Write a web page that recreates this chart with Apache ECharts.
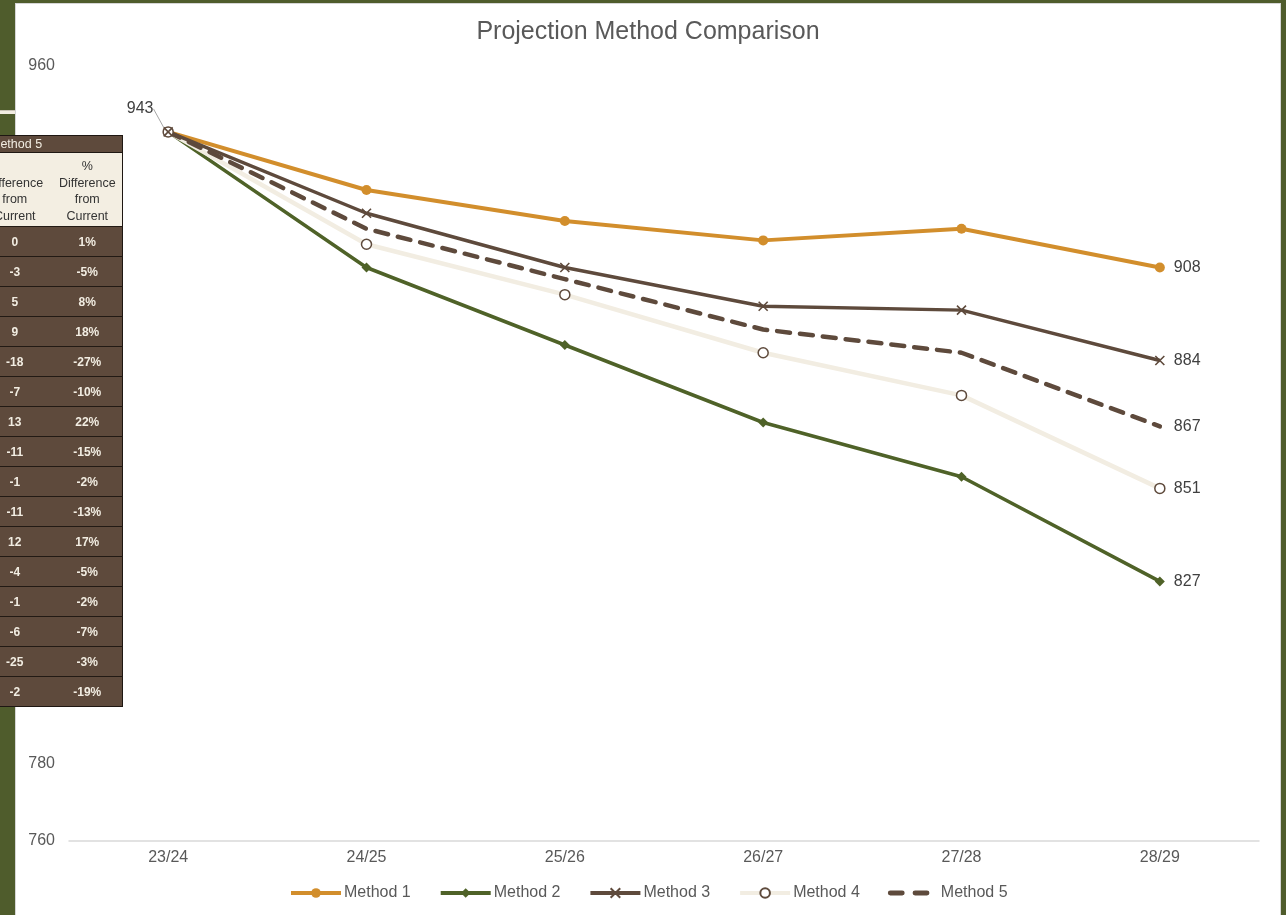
<!DOCTYPE html>
<html>
<head>
<meta charset="utf-8">
<script src="https://cdn.jsdelivr.net/npm/echarts@6/dist/echarts.min.js"></script>
<style>
  html, body { margin: 0; padding: 0; }
  body { width: 1286px; height: 915px; background: #4f5c2c; position: relative; overflow: hidden;
         font-family: 'Liberation Sans', Helvetica, Arial, sans-serif; }
  #chart { position: absolute; left: 16px; top: 4px; width: 1264px; height: 911px; background: #ffffff;
           box-shadow: 0 0 0 1px #d6d6d6; }
  #rule { position: absolute; left: 0; top: 110px; width: 16px; height: 3px; background: #f2ede2;
          border-top: 1px solid #c9c3b6; }
  #sheet { position: absolute; left: -24px; top: 135px; border-collapse: collapse; table-layout: fixed;
           width: 146px; border: 1px solid #1e1712; z-index: 5; }
  #sheet td { padding: 0; text-align: center; font-size: 12px; line-height: 16px; overflow: hidden; white-space: nowrap; }
  #sheet tr.title td { background: #5e4a3c; color: #f2ede2; text-align: left; padding-left: 13px; height: 16px;
                       border-bottom: 1px solid #1e1712; font-size: 12.5px; }
  #sheet tr.head td { background: #f3eee2; color: #333333; height: 71px; vertical-align: bottom; padding-bottom: 2px;
                      white-space: normal; line-height: 16.5px; font-size: 12.5px; }
  #sheet tr.row td { background: #5e4a3c; color: #f2ede2; font-weight: bold; height: 29px; border-top: 1px solid #221a14; }
</style>
</head>
<body>
<div id="rule"></div>
<div id="chart"></div>
<table id="sheet"><colgroup><col style="width:76px"><col style="width:70px"></colgroup><tbody id="sheetBody"></tbody></table>
<script>
// Projection years along the x axis
const categories = ['23/24', '24/25', '25/26', '26/27', '27/28', '28/29'];

// Projected totals for each method
const method1 = [943, 928, 920, 915, 918, 908];
const method2 = [943, 908, 888, 868, 854, 827];
const method3 = [943, 922, 908, 898, 897, 884];
const method4 = [943, 914, 901, 886, 875, 851];
const method5 = [943, 918, 905, 892, 886, 867];

// Value axis range
const yMin = 760;
const yMax = 960;
const yStep = 20;

// Side table: Method 5 difference columns
const tableTitle = 'Method 5';
const diffHeader = 'Difference from Current';
const pctHeader = '% Difference from Current';
const diffValues = [0, -3, 5, 9, -18, -7, 13, -11, -1, -11, 12, -4, -1, -6, -25, -2];
const pctValues = ['1%', '-5%', '8%', '18%', '-27%', '-10%', '22%', '-15%', '-2%', '-13%', '17%', '-5%', '-2%', '-7%', '-3%', '-19%'];

// Build the side table
(function buildTable() {
  const body = document.getElementById('sheetBody');
  let html = '<tr class="title"><td colspan="2">' + tableTitle + '</td></tr>';
  html += '<tr class="head"><td>' + diffHeader.replace(/ /g, '<br>') + '</td><td>' + pctHeader.replace(/ /g, '<br>') + '</td></tr>';
  for (let i = 0; i < diffValues.length; i++) {
    html += '<tr class="row"><td>' + diffValues[i] + '</td><td>' + pctValues[i] + '</td></tr>';
  }
  body.innerHTML = html;
})();

const FONT = "'Liberation Sans', Helvetica, Arial, sans-serif";
const BROWN = '#5e4a3c';

// Legend icon for the dashed series: two rounded dashes in a 50x12 box
const DASH_ICON = 'path://M0,0L0,0M50,12L50,12' +
  'M2,3.5H14A2.5,2.5,0,0,1,14,8.5H2A2.5,2.5,0,0,1,2,3.5Z' +
  'M27,3.5H39A2.5,2.5,0,0,1,39,8.5H27A2.5,2.5,0,0,1,27,3.5Z';

// First point carries the shared starting value with a guide line
function withStartLabel(values) {
  return values.map((v, i) => i === 0 ? {
    value: v,
    label: { show: true, position: 'inside', formatter: '{c}', color: '#404040', fontSize: 16, fontFamily: FONT },
    labelLine: { show: true, lineStyle: { color: '#a6a6a6', width: 1 } }
  } : v);
}

const endLabel = {
  show: true, formatter: p => p.value, distance: 14,
  color: '#404040', fontSize: 16, fontFamily: FONT
};

const chart = echarts.init(document.getElementById('chart'), null, { renderer: 'canvas' });
chart.setOption({
  animation: false,
  backgroundColor: '#ffffff',
  title: {
    text: 'Projection Method Comparison', left: 'center', top: 16, padding: 0,
    textStyle: { color: '#595959', fontSize: 25, fontWeight: 'normal', fontFamily: FONT }
  },
  grid: { left: 53, right: 21, top: 62, bottom: 74, containLabel: false },
  legend: {
    bottom: 9, left: 268, itemWidth: 50, itemHeight: 12, itemGap: 28,
    lineStyle: { width: 4 },
    textStyle: { color: '#595959', fontSize: 16, fontFamily: FONT, padding: [0, 0, 0, -2] },
    data: ['Method 1', 'Method 2', 'Method 3', 'Method 4', { name: 'Method 5', icon: DASH_ICON }]
  },
  xAxis: {
    type: 'category', data: categories, boundaryGap: true,
    axisLine: { lineStyle: { color: '#d9d9d9', width: 1.5 } },
    axisTick: { show: false },
    axisLabel: { color: '#595959', fontSize: 16, fontFamily: FONT, margin: 9 }
  },
  yAxis: {
    type: 'value', min: yMin, max: yMax, interval: yStep,
    axisLine: { show: false }, axisTick: { show: false }, splitLine: { show: false },
    axisLabel: { color: '#595959', fontSize: 16, fontFamily: FONT, margin: 14 }
  },
  series: [
    {
      name: 'Method 1', type: 'line', data: method1, color: '#d28e2c',
      lineStyle: { width: 4, color: '#d28e2c' },
      symbol: 'circle', symbolSize: 10, itemStyle: { color: '#d28e2c' },
      endLabel: endLabel
    },
    {
      name: 'Method 2', type: 'line', data: method2, color: '#4f6228',
      lineStyle: { width: 3.5, color: '#4f6228' },
      symbol: 'diamond', symbolSize: 10, itemStyle: { color: '#4f6228' },
      endLabel: endLabel
    },
    {
      name: 'Method 4', type: 'line', data: method4, color: '#f2ede2',
      lineStyle: { width: 4.5, color: '#f2ede2' },
      symbol: 'circle', symbolSize: 10,
      itemStyle: { color: '#ffffff', borderColor: BROWN, borderWidth: 1.5 },
      endLabel: endLabel
    },
    {
      name: 'Method 5', type: 'line', data: method5, color: BROWN,
      lineStyle: { width: 4.5, color: BROWN, type: [13, 10], cap: 'round' },
      symbol: 'none',
      endLabel: endLabel
    },
    {
      name: 'Method 3', type: 'line', data: withStartLabel(method3), color: BROWN,
      lineStyle: { width: 3.5, color: BROWN },
      symbol: 'path://M0,0L10,10M10,0L0,10', symbolSize: 9,
      itemStyle: { color: 'none', borderColor: BROWN, borderWidth: 1.6 },
      labelLayout: p => p.dataIndex === 0 ? { dx: -28, dy: -23 } : {},
      endLabel: endLabel
    }
  ]
});
</script>
</body>
</html>
